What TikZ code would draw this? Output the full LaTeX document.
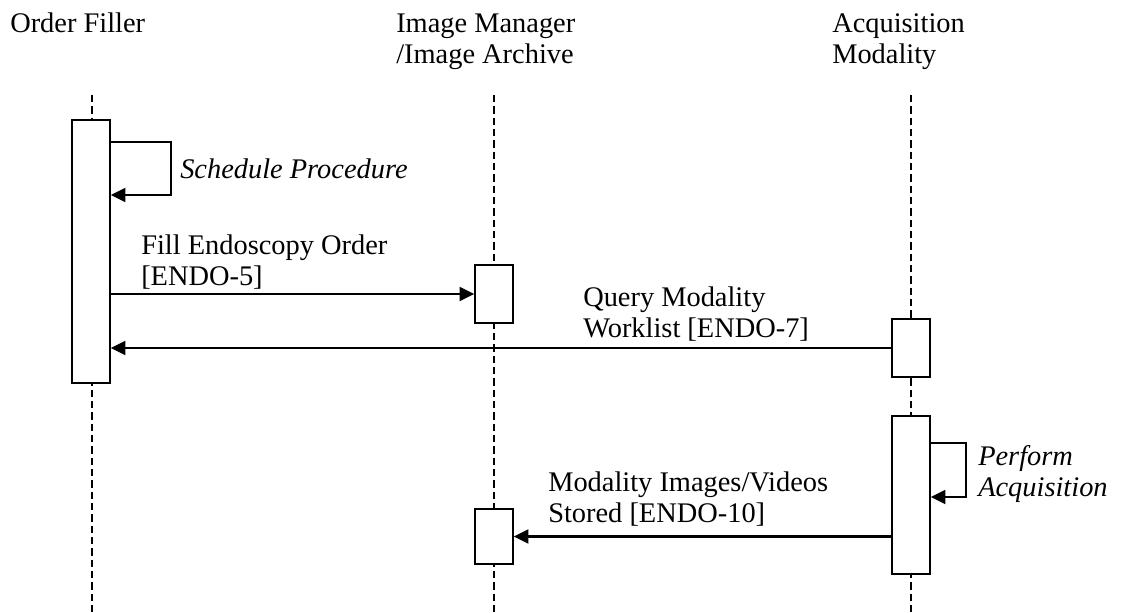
\documentclass[tikz,border=0pt]{standalone}
\usepackage{fontspec}
\setmainfont{Liberation Serif}
\usetikzlibrary{arrows.meta}

\tikzset{
  lifeline/.style={dashed, line width=1pt, dash pattern=on 5.5pt off 3pt},
  actbox/.style={draw, fill=white, line width=1.2pt, inner sep=0pt, minimum width=28.5pt},
  msg/.style={-{Triangle[length=11pt,width=10.5pt]}, line width=1.8pt},
  selfmsg/.style={-{Triangle[length=11pt,width=10.5pt]}, line width=1.5pt},
  lbl/.style={anchor=base west, align=left, inner sep=0pt}
}

\begin{document}
\begin{tikzpicture}[x=0.75pt, y=-0.75pt, font=\fontsize{21.3}{23.25}\selectfont]

\useasboundingbox (0,0) rectangle (1125,613);

% Actors (two-line labels are placed by their last baseline)
\node[lbl] (of) at (10,33) {Order Filler};
\node[lbl] (im) at (396,64) {Image Manager\\/Image Archive};
\node[lbl] (am) at (832,64) {Acquisition\\Modality};

% Lifelines
\foreach \name/\x in {oftop/92, imtop/494, amtop/911}
    \draw[lifeline] (\x,95) coordinate (\name) -- (\x,613);

% Activation boxes
\node[actbox, minimum height=197.25pt] (of1) at (91,251.5) {};
\node[actbox, minimum height=43.5pt] (im1) at (494,294) {};
\node[actbox, minimum height=43.5pt] (am1) at (911,348) {};
\node[actbox, minimum height=118.5pt] (am2) at (911,495) {};
\node[actbox, minimum height=41.25pt] (im2) at (494,536.5) {};

% Schedule Procedure
\coordinate (sp1) at (of1.east |- 0,142);
\coordinate (sp2) at (of1.east |- 0,195);
\draw[selfmsg] (sp1) -- ++(60,0) |- (sp2);
\node[lbl] (sched) at (180,179) {\itshape Schedule Procedure};

% Fill Endoscopy Order
\draw[msg] (of1.east |- im1.west) -- (im1.west);
\node[lbl] (fill) at (141,285) {Fill Endoscopy Order\\{[ENDO-5]}};

% Query Modality Worklist
\draw[msg] (am1.west) -- (am1.west -| of1.east);
\node[lbl] (query) at (583,337) {Query Modality\\Worklist [ENDO-7]};

% Perform Acquisition
\coordinate (pa1) at (am2.east |- 0,443);
\coordinate (pa2) at (am2.east |- 0,497);
\draw[selfmsg] (pa1) -- ++(35,0) |- (pa2);
\node[lbl] (perf) at (978,496) {\itshape Perform\\\itshape Acquisition};

% Modality Images/Videos Stored
\draw[msg] (am2.west |- im2.east) -- (im2.east);
\node[lbl] (store) at (548,522) {Modality Images/Videos\\Stored [ENDO-10]};

\end{tikzpicture}
\end{document}
